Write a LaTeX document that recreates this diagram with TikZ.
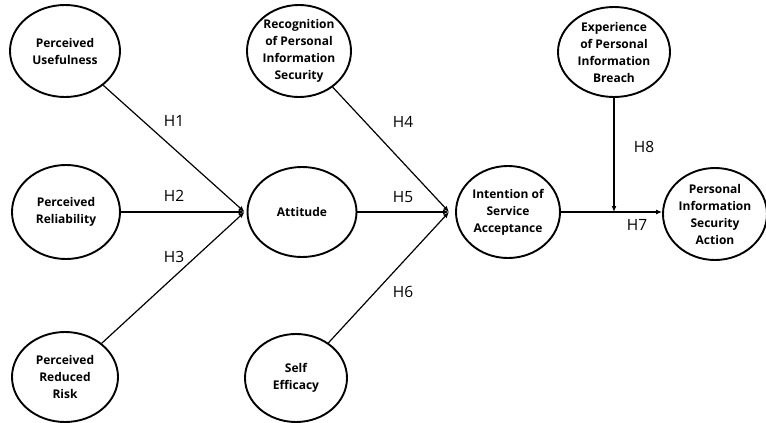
\documentclass[tikz,border=0pt]{standalone}
\usepackage{fontspec}
\setmainfont{Open Sans}
\usetikzlibrary{shapes.geometric,arrows.meta}
\tikzset{
  oval/.style={draw, ellipse, line width=1.9pt, inner sep=0pt},
  lbl/.style={align=center, font=\fontsize{12}{17}\selectfont\bfseries, inner sep=0pt},
  hlab/.style={font=\fontsize{15.5}{17}\selectfont, inner sep=0pt},
  conn/.style={line width=1.2pt, -{Latex[length=6pt,width=5pt]}}
}
\begin{document}
\begin{tikzpicture}[x=1pt,y=-1pt]
\useasboundingbox (0,0) rectangle (766,423);
% ellipses
\node[oval, minimum width=110pt, minimum height=92pt] (pu) at (65,51) {};
\node[oval, minimum width=108pt, minimum height=94pt] (pr) at (66,212) {};
\node[oval, minimum width=106pt, minimum height=90pt] (prr) at (65,377) {};
\node[oval, minimum width=104pt, minimum height=92pt] (rec) at (299,51) {};
\node[oval, minimum width=109pt, minimum height=90pt] (att) at (302,212) {};
\node[oval, minimum width=102pt, minimum height=88pt] (se) at (296,378) {};
\node[oval, minimum width=104pt, minimum height=92pt] (int) at (508,212) {};
\node[oval, minimum width=112pt, minimum height=90pt] (exp) at (614,52) {};
\node[oval, minimum width=104pt, minimum height=92pt] (pisa) at (715,214) {};
% texts
\node[lbl] (put) at (pu) {Perceived\\Usefulness};
\node[lbl] (prt) at (pr) {Perceived\\Reliability};
\node[lbl] (prrt) at (prr) {Perceived\\Reduced\\Risk};
\node[lbl] (rect) at (rec) {Recognition\\of Personal\\Information\\Security};
\node[lbl] (attt) at (att) {Attitude};
\node[lbl] (set) at (se) {Self\\Efficacy};
\node[lbl] (intt) at (int) {Intention of\\Service\\Acceptance};
\node[lbl] (expt) at (exp) {Experience\\of Personal\\Information\\Breach};
\node[lbl] (pisat) at (pisa) {Personal\\Information\\Security\\Action};
% connectors
\coordinate (attin) at ([xshift=-2pt]att.west);
\coordinate (intin) at ([xshift=-6pt]int.west);
\coordinate (h8end) at (614,212);
\draw[conn] (pu) -- (attin);
\draw[conn] (pr) -- (attin);
\draw[conn] (prr) -- (attin);
\draw[conn] (rec) -- (intin);
\draw[conn] (att) -- (intin);
\draw[conn] (se) -- (intin);
\draw[conn] (int.east) -- (pisa.west |- int.east);
\draw[conn] (exp) -- (h8end);
% hypothesis labels
\node[hlab] (h1) at (174,121) {H1};
\node[hlab] (h2) at (174,196) {H2};
\node[hlab] (h3) at (174,257) {H3};
\node[hlab] (h4) at (403,122) {H4};
\node[hlab] (h5) at (403,197) {H5};
\node[hlab] (h6) at (403,292) {H6};
\node[hlab] (h8) at (644,147) {H8};
\node[hlab] (h7) at (637,225) {H7};
\end{tikzpicture}
\end{document}
